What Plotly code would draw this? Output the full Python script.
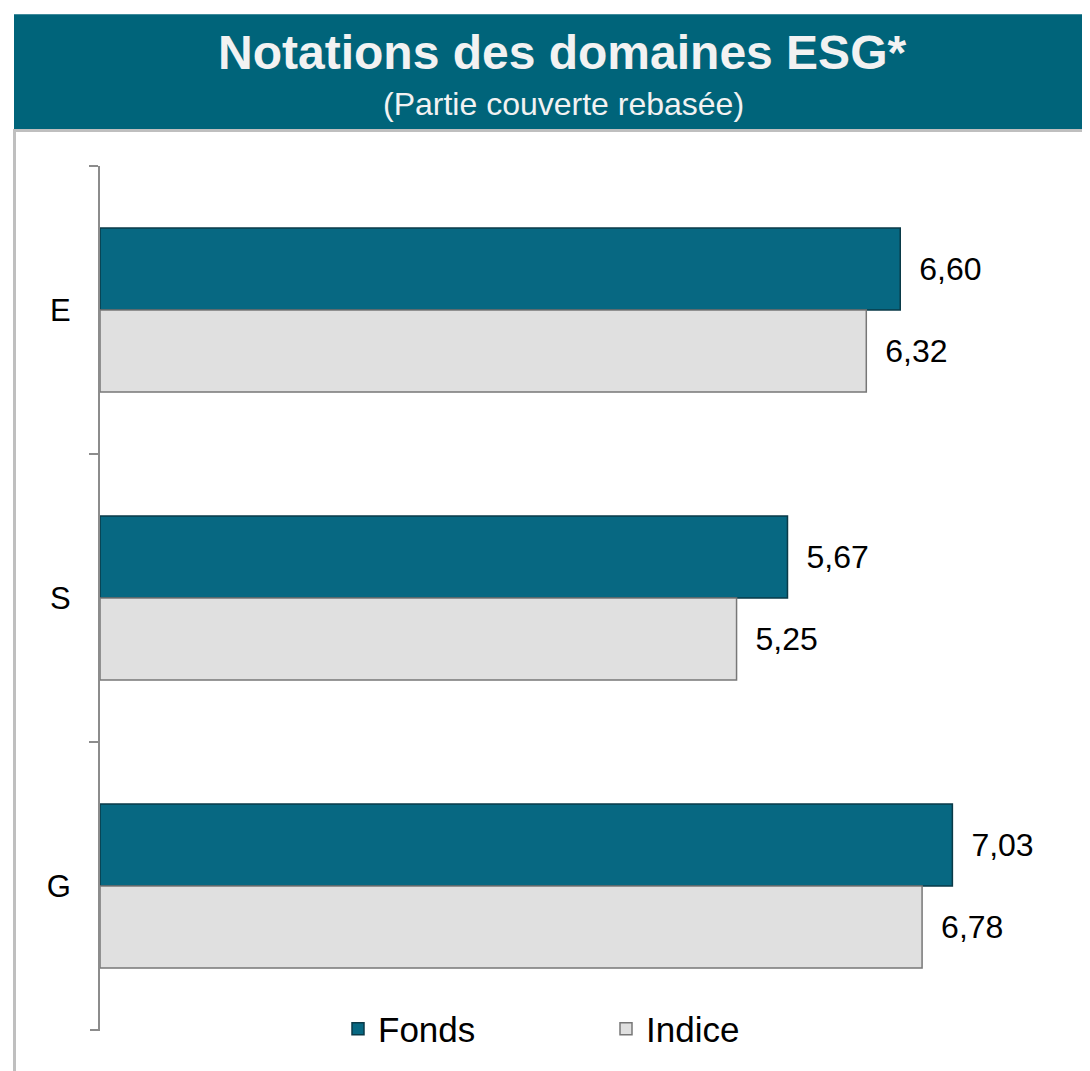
import plotly.graph_objects as go

categories = ["E", "S", "G"]
fonds_values = [6.60, 5.67, 7.03]
indice_values = [6.32, 5.25, 6.78]
series_names = ["Fonds", "Indice"]
title_text = "Notations des domaines ESG*"
subtitle_text = "(Partie couverte rebasée)"

# page body has an 8px margin; lay out in reference pixel coords shifted by OFF
OFF = 8
W, H = 1090 - OFF, 1071 - OFF
ML, MR, MT, MB = 100 - OFF, 20, 166 - OFF, 39
PW, PH = W - ML - MR, H - MT - MB

def px_x(px):
    return (px - OFF - ML) / PW

def px_y(py):
    return (H - MB - (py - OFF)) / PH

FONT = "Liberation Sans, Arial, sans-serif"
AXIS_GREY = "#8c8c8c"

def fmt(v):
    return "\u2002" + f"{v:.2f}".replace(".", ",")

fig = go.Figure()
fig.add_trace(go.Bar(
    y=categories, x=fonds_values, name=series_names[0], orientation="h",
    marker=dict(color="#076882", line=dict(color="#0a3a48", width=1.5)),
    text=[fmt(v) for v in fonds_values], textposition="outside",
    textfont=dict(size=32, color="#000000", family=FONT),
    constraintext="none", cliponaxis=False,
))
fig.add_trace(go.Bar(
    y=categories, x=indice_values, name=series_names[1], orientation="h",
    marker=dict(color="#e0e0e0", line=dict(color="#777777", width=1.5)),
    text=[fmt(v) for v in indice_values], textposition="outside",
    textfont=dict(size=32, color="#000000", family=FONT),
    constraintext="none", cliponaxis=False,
))

shapes = [
    # title banner
    dict(type="rect", xref="paper", yref="paper",
         x0=px_x(14), x1=px_x(1100), y0=px_y(129), y1=px_y(14),
         fillcolor="#00647a", line=dict(width=0), layer="below"),
    # grey line under banner
    dict(type="line", xref="paper", yref="paper",
         x0=px_x(14), x1=px_x(1100), y0=px_y(130.5), y1=px_y(130.5),
         line=dict(color="#bfbfbf", width=3)),
    # left border
    dict(type="line", xref="paper", yref="paper",
         x0=px_x(14.5), x1=px_x(14.5), y0=px_y(129), y1=px_y(1080),
         line=dict(color="#bfbfbf", width=3)),
    # closing boundary tick at the bottom of the category axis
    dict(type="line", xref="paper", yref="paper",
         x0=px_x(90), x1=px_x(100), y0=0, y1=0,
         line=dict(color=AXIS_GREY, width=2)),
]

annotations = [
    dict(text=f"<b>{title_text}</b>", xref="paper", yref="paper",
         x=px_x(562), y=px_y(52), xanchor="center", yanchor="middle",
         showarrow=False, font=dict(size=48, color="#f2f2f2", family=FONT)),
    dict(text=subtitle_text, xref="paper", yref="paper",
         x=px_x(563), y=px_y(104), xanchor="center", yanchor="middle",
         showarrow=False, font=dict(size=32, color="#f2f2f2", family=FONT)),
]

fig.update_layout(
    width=W, height=H,
    margin=dict(l=ML, r=MR, t=MT, b=MB),
    paper_bgcolor="#ffffff", plot_bgcolor="#ffffff",
    barmode="group", bargap=0.43, bargroupgap=0,
    shapes=shapes, annotations=annotations,
    font=dict(family=FONT, color="#000000"),
    legend=dict(orientation="h", x=px_x(338), y=px_y(1031),
                xanchor="left", yanchor="middle",
                font=dict(size=35, color="#000000", family=FONT),
                bgcolor="rgba(0,0,0,0)", entrywidth=223, entrywidthmode="pixels",
                traceorder="normal"),
    showlegend=True,
)
fig.update_xaxes(range=[0, 8], visible=False, showgrid=False, zeroline=False)
fig.update_yaxes(range=[2.5, -0.5], showline=True, linecolor=AXIS_GREY, linewidth=2,
                 ticks="outside", ticklen=9, tickwidth=2, tickcolor=AXIS_GREY,
                 tickson="boundaries", showgrid=False, zeroline=False,
                 tickfont=dict(size=31, color="#000000", family=FONT),
                 ticklabelstandoff=21)

fig.write_html("out.html")
